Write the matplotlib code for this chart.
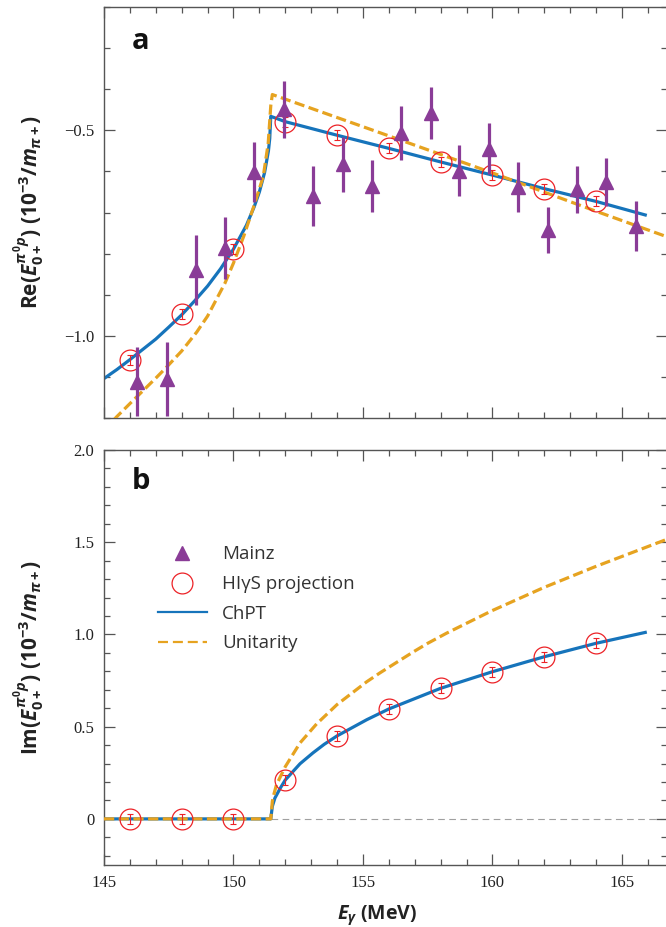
import matplotlib
matplotlib.use('Agg')
import matplotlib.pyplot as plt
from matplotlib.ticker import MultipleLocator
from matplotlib.lines import Line2D

# ---------------- data ----------------
hig_x = [146, 148, 150, 152, 154, 156, 158, 160, 162, 164]
hig_re = [-1.058, -0.947, -0.789, -0.479, -0.512, -0.544, -0.577, -0.609, -0.642, -0.673]
hig_re_err = [0.012, 0.012, 0.012, 0.012, 0.012, 0.012, 0.012, 0.012, 0.012, 0.012]
hig_im = [0.0, 0.0, 0.0, 0.211, 0.450, 0.594, 0.708, 0.798, 0.879, 0.952]
hig_im_err = [0.027, 0.027, 0.027, 0.027, 0.027, 0.027, 0.027, 0.027, 0.027, 0.027]

mainz_x = [146.26, 147.42, 148.54, 149.67, 150.80, 151.95, 153.08, 154.24, 155.36,
           156.47, 157.61, 158.72, 159.86, 161.00, 162.13, 163.27, 164.39, 165.53]
mainz_re = [-1.112, -1.104, -0.840, -0.786, -0.602, -0.449, -0.660, -0.583, -0.636,
            -0.507, -0.458, -0.598, -0.545, -0.638, -0.743, -0.644, -0.626, -0.733]
mainz_err = [0.084, 0.090, 0.085, 0.075, 0.073, 0.070, 0.073, 0.066, 0.063,
             0.066, 0.064, 0.062, 0.062, 0.061, 0.056, 0.057, 0.058, 0.060]

chpt_re_x = [145.0, 145.5, 146.0, 146.5, 147.0, 147.5, 148.0, 148.5, 149.0, 149.5, 150.0,
             150.5, 150.8, 151.0, 151.2, 151.35, 151.40, 151.44,
             152.0, 154.0, 156.0, 158.0, 160.0, 162.0, 164.0, 165.9]
chpt_re_y = [-1.104, -1.082, -1.058, -1.033, -1.008, -0.979, -0.949, -0.915, -0.879, -0.837, -0.789,
             -0.731, -0.686, -0.650, -0.603, -0.550, -0.520, -0.466,
             -0.479, -0.512, -0.544, -0.577, -0.609, -0.642, -0.673, -0.706]

unit_re_x = [145.0, 145.49, 146.0, 146.5, 147.0, 147.42, 148.0, 148.58, 149.0, 149.67, 150.0,
             150.4, 150.8, 151.15, 151.34, 151.44, 151.5, 155.66, 159.97, 163.96, 167.0]
unit_re_y = [-1.230, -1.197, -1.165, -1.134, -1.103, -1.076, -1.037, -0.991, -0.952, -0.872, -0.823,
             -0.757, -0.682, -0.612, -0.532, -0.440, -0.413, -0.506, -0.603, -0.696, -0.765]

chpt_im_x = [145.0, 151.44, 151.5, 151.6, 151.8, 152.0, 152.57, 153.07, 153.5, 154.0, 155.15,
             156.0, 158.0, 160.0, 162.0, 164.0, 165.9]
chpt_im_y = [0.0, 0.0, 0.068, 0.113, 0.165, 0.211, 0.299, 0.358, 0.404, 0.450, 0.538,
             0.596, 0.708, 0.798, 0.879, 0.952, 1.011]

unit_im_x = [145.0, 151.44, 151.5, 151.55, 151.66, 152.0, 152.57, 153.21, 154.0, 155.14,
             155.66, 156.95, 157.5, 158.23, 159.97, 161.96, 163.96, 167.0]
unit_im_y = [0.0, 0.0, 0.095, 0.128, 0.185, 0.283, 0.412, 0.515, 0.620, 0.743,
             0.792, 0.906, 0.952, 1.007, 1.128, 1.253, 1.367, 1.530]

threshold = 151.44
xticks = [145, 150, 155, 160, 165]
re_ticks = [-1.0, -0.5]
re_ticklabels = ['\u22121.0', '\u22120.5']
im_ticks = [0, 0.5, 1.0, 1.5, 2.0]
im_ticklabels = ['0', '0.5', '1.0', '1.5', '2.0']
legend_labels = ['Mainz', 'HI\u03b3S projection', 'ChPT', 'Unitarity']

# ---------------- style ----------------
purple = '#8a3c97'
red = '#ec2227'
blue = '#1674bb'
orange = '#e6a320'
spine_c = '#555555'
dash = (0, (3.2, 1.4))

plt.rcParams['mathtext.fontset'] = 'custom'
plt.rcParams['mathtext.rm'] = 'Open Sans:bold'
plt.rcParams['mathtext.it'] = 'Open Sans:italic:bold'
plt.rcParams['mathtext.bf'] = 'Open Sans:bold'

W, H = 666, 927
fig = plt.figure(figsize=(W / 100, H / 100), dpi=100)
ax1 = fig.add_axes([104 / W, 1 - 418 / H, (667 - 104) / W, (418 - 7) / H])
ax2 = fig.add_axes([104 / W, 1 - 865 / H, (667 - 104) / W, (865 - 450) / H])

for ax in (ax1, ax2):
    ax.set_xlim(145, 166.74)
    for s in ax.spines.values():
        s.set_color(spine_c)
        s.set_linewidth(1.0)
    ax.tick_params(which='both', direction='in', top=True, right=True,
                   color=spine_c, width=0.9, labelcolor='#222222', pad=7)
    ax.tick_params(which='major', length=8)
    ax.tick_params(which='minor', length=4.5)
    ax.xaxis.set_minor_locator(MultipleLocator(1))
    ax.yaxis.set_minor_locator(MultipleLocator(0.1))
    ax.set_xticks(xticks)

# ---------------- panel a ----------------
ax1.set_ylim(-1.2, -0.2)
ax1.set_yticks(re_ticks, re_ticklabels)
ax1.tick_params(labelbottom=False)
ax1.plot(chpt_re_x, chpt_re_y, color=blue, lw=2.3, zorder=2)
ax1.plot(unit_re_x, unit_re_y, color=orange, lw=2.3, ls=dash, zorder=3)
ax1.errorbar(hig_x, hig_re, yerr=hig_re_err, fmt='none', ecolor=red,
             elinewidth=0.8, capsize=2.2, capthick=0.8, zorder=4)
ax1.plot(hig_x, hig_re, 'o', ms=15, mfc='none', mec=red, mew=0.9, zorder=4)
ax1.errorbar(mainz_x, mainz_re, yerr=mainz_err, fmt='^', color=purple, mec=purple,
             ms=10, elinewidth=2.3, capsize=0, zorder=5)

# ---------------- panel b ----------------
ax2.set_ylim(-0.25, 2.0)
ax2.set_yticks(im_ticks, im_ticklabels)
ax2.set_xticklabels([str(v) for v in xticks])
ax2.plot([threshold, 167], [0, 0], color='#a0a0a0', lw=0.8, ls=(0, (6, 4)), zorder=1)
ax2.plot(chpt_im_x, chpt_im_y, color=blue, lw=2.3, zorder=2)
ax2.plot(unit_im_x, unit_im_y, color=orange, lw=2.3, ls=dash, zorder=3)
ax2.errorbar(hig_x, hig_im, yerr=hig_im_err, fmt='none', ecolor=red,
             elinewidth=0.8, capsize=2.2, capthick=0.8, zorder=4)
ax2.plot(hig_x, hig_im, 'o', ms=15, mfc='none', mec=red, mew=0.9, zorder=4)

for ax in (ax1, ax2):
    for lab in ax.get_xticklabels() + ax.get_yticklabels():
        lab.set_fontfamily('Liberation Serif')
        lab.set_fontsize(12)

handles = [
    Line2D([], [], marker='^', ls='none', color=purple, ms=9.5),
    Line2D([], [], marker='o', ls='none', mfc='none', mec=red, mew=0.9, ms=15),
    Line2D([], [], color=blue, lw=1.6),
    Line2D([], [], color=orange, lw=1.6, ls=(0, (4.5, 2.2))),
]
leg = ax2.legend(handles, legend_labels, loc='upper left', bbox_to_anchor=(0.096, 0.77),
                 frameon=False, borderaxespad=0, borderpad=0, handlelength=2.6,
                 handletextpad=0.8, labelspacing=0.62,
                 prop={'family': 'Open Sans', 'size': 13.5})
for t in leg.get_texts():
    t.set_color('#333333')

# labels
ax1.text(0.05, 0.917, 'a', transform=ax1.transAxes, fontsize=21, fontweight='bold',
         family='Open Sans', ha='left', va='center', color='#111111')
ax2.text(0.05, 0.924, 'b', transform=ax2.transAxes, fontsize=21, fontweight='bold',
         family='Open Sans', ha='left', va='center', color='#111111')

ax1.set_ylabel(r'Re$(E_{0+}^{\pi^{0}p})$ (10$^{-3}$/$m_{\pi+}$)', fontsize=15,
               fontweight='bold', family='Open Sans', color='#222222')
ax2.set_ylabel(r'Im$(E_{0+}^{\pi^{0}p})$ (10$^{-3}$/$m_{\pi+}$)', fontsize=15,
               fontweight='bold', family='Open Sans', color='#222222')
ax1.yaxis.set_label_coords(-0.101, 0.5)
ax2.yaxis.set_label_coords(-0.101, 0.5)
ax2.set_xlabel(r'$E_{\gamma}$ (MeV)', fontsize=14, fontweight='bold',
               family='Open Sans', color='#222222')
ax2.xaxis.set_label_coords(0.485, -0.093)

fig.savefig('out.png', dpi=100)
